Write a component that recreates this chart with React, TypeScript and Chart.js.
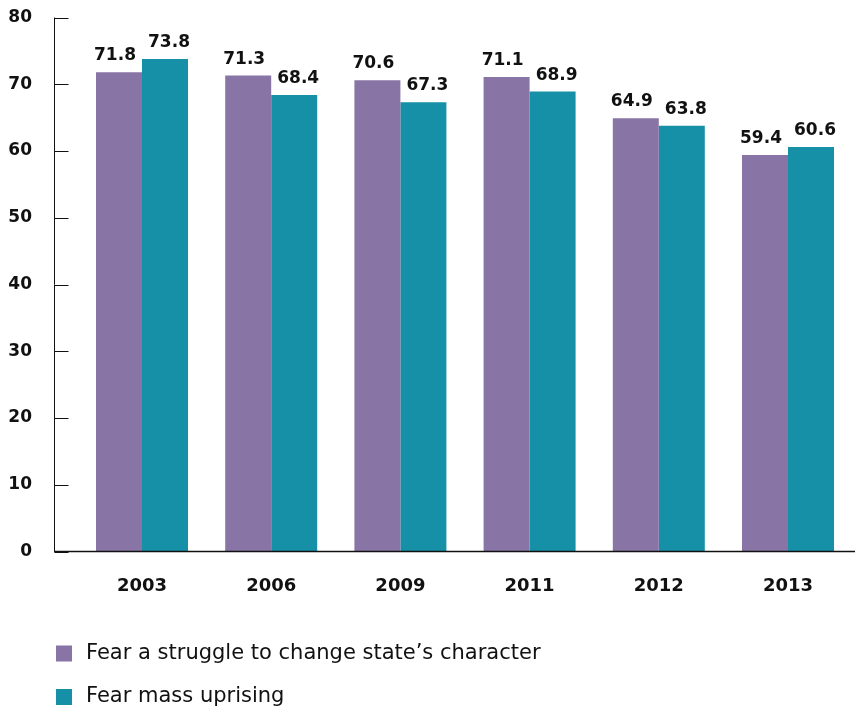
import React, { useEffect, useRef } from "react";
import { Chart, registerables } from "chart.js";

Chart.register(...registerables);

const years = ["2003", "2006", "2009", "2011", "2012", "2013"];
const struggleValues = [71.8, 71.3, 70.6, 71.1, 64.9, 59.4];
const uprisingValues = [73.8, 68.4, 67.3, 68.9, 63.8, 60.6];
const seriesNames = ["Fear a struggle to change state’s character", "Fear mass uprising"];
const seriesColors = ["#8974a6", "#1690a6"];
const yMin = 0;
const yMax = 80;
const yStep = 10;

const wide = "'DejaVu Sans', Verdana, sans-serif";

const axisPlugin = {
  id: "axisLines",
  afterDraw(chart: any) {
    const { ctx } = chart;
    const y = chart.scales.y;
    const x0 = 54.5;
    const yTop = y.getPixelForValue(yMax);
    const yBot = y.getPixelForValue(yMin);
    ctx.save();
    ctx.strokeStyle = "#111";
    ctx.lineWidth = 1;
    ctx.beginPath();
    ctx.moveTo(x0, yTop);
    ctx.lineTo(x0, yBot);
    for (let v = yMin; v <= yMax; v += yStep) {
      const py = Math.round(y.getPixelForValue(v)) + 0.5;
      ctx.moveTo(x0, py);
      ctx.lineTo(x0 + 14, py);
    }
    ctx.stroke();
    ctx.beginPath();
    ctx.lineWidth = 1.5;
    ctx.moveTo(x0 - 0.5, yBot);
    ctx.lineTo(chart.width, yBot);
    ctx.stroke();
    ctx.restore();
  },
};

const valueLabelPlugin = {
  id: "valueLabels",
  afterDatasetsDraw(chart: any) {
    const { ctx } = chart;
    ctx.save();
    ctx.font = `bold 17px ${wide}`;
    ctx.fillStyle = "#111";
    ctx.textAlign = "center";
    ctx.textBaseline = "alphabetic";
    chart.data.datasets.forEach((ds: any, i: number) => {
      const meta = chart.getDatasetMeta(i);
      meta.data.forEach((bar: any, j: number) => {
        const v = ds.data[j];
        const dx = i === 0 ? -4 : 4;
        ctx.fillText(v.toFixed(1), bar.x + dx, bar.y - 12);
      });
    });
    ctx.restore();
  },
};

const legendPlugin = {
  id: "bottomLegend",
  afterDraw(chart: any) {
    const { ctx } = chart;
    ctx.save();
    ctx.font = `400 21px ${wide}`;
    ctx.textAlign = "left";
    ctx.textBaseline = "middle";
    chart.data.datasets.forEach((ds: any, i: number) => {
      const cy = 653.5 + i * 43.5;
      ctx.fillStyle = ds.backgroundColor;
      ctx.fillRect(56, cy - 8, 16, 16);
      ctx.fillStyle = "#111";
      ctx.fillText(ds.label, 86, cy);
    });
    ctx.restore();
  },
};

export default function App() {
  const canvasRef = useRef<HTMLCanvasElement | null>(null);

  useEffect(() => {
    document.body.style.margin = "0";
    document.body.style.overflow = "hidden";
    const canvas = canvasRef.current;
    if (!canvas) return;
    const chart = new Chart(canvas, {
      type: "bar",
      data: {
        labels: years,
        datasets: [
          {
            label: seriesNames[0],
            data: struggleValues,
            backgroundColor: seriesColors[0],
            borderWidth: 0,
            categoryPercentage: 0.712,
            barPercentage: 1,
          },
          {
            label: seriesNames[1],
            data: uprisingValues,
            backgroundColor: seriesColors[1],
            borderWidth: 0,
            categoryPercentage: 0.712,
            barPercentage: 1,
          },
        ],
      },
      options: {
        animation: false,
        responsive: true,
        maintainAspectRatio: false,
        layout: { padding: { top: 17.5, right: 2.4, left: 0, bottom: 0 } },
        plugins: {
          legend: { display: false },
          tooltip: { enabled: false },
        },
        scales: {
          x: {
            offset: true,
            grid: { display: false, drawTicks: false },
            border: { display: false },
            ticks: {
              color: "#111",
              padding: 24,
              font: { family: wide, size: 18, weight: "bold" },
            },
            afterFit(scale: any) {
              scale.height = 158.5;
            },
          },
          y: {
            min: yMin,
            max: yMax,
            grid: { display: false, drawTicks: true, tickLength: 40 },
            border: { display: false },
            ticks: {
              stepSize: yStep,
              color: "#111",
              padding: 5.4,
              font: { family: wide, size: 17, weight: "bold" },
            },
            afterFit(scale: any) {
              scale.width = 77.4;
            },
          },
        },
      },
      plugins: [axisPlugin, valueLabelPlugin, legendPlugin],
    });
    return () => chart.destroy();
  }, []);

  return (
    <div style={{ width: "855px", height: "710px", position: "relative" }}>
      <canvas ref={canvasRef} />
    </div>
  );
}
